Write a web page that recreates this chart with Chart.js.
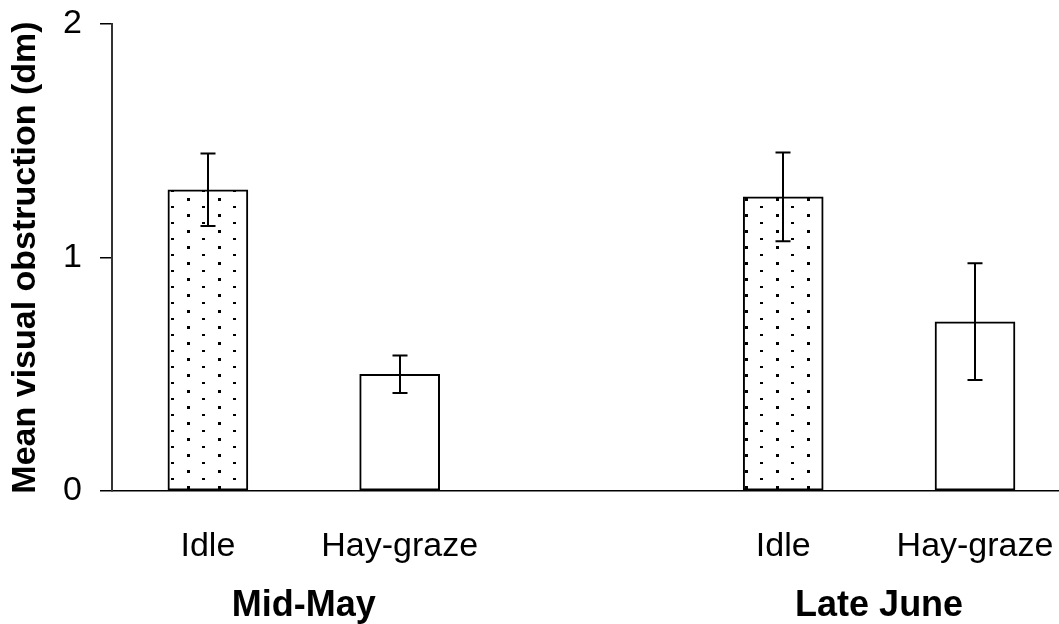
<!DOCTYPE html>
<html>
<head>
<meta charset="utf-8">
<script src="https://cdn.jsdelivr.net/npm/chart.js@4.4.1/dist/chart.umd.min.js"></script>
<style>
  html, body { margin: 0; padding: 0; background: #fff; overflow: hidden; }
  #wrap { position: relative; width: 1059px; height: 624px; }
</style>
</head>
<body>
<div id="wrap"><canvas id="c"></canvas></div>
<script>
// Mean visual obstruction by treatment, two sampling periods
const periods = ['Mid-May', 'Late June'];
const treatments = ['Idle', 'Hay-graze'];
const idleMean = [1.29, 1.26];
const idleSE = [0.155, 0.19];
const hayMean = [0.50, 0.725];
const haySE = [0.08, 0.25];
const yTicks = [0, 1, 2];

const FONT = "'Liberation Sans', Arial, Helvetica, sans-serif";

// slot along x: two bars per period, one empty slot between periods
const slot = (p, t) => 1 + p * 3 + t;

const points = [];
periods.forEach((p, i) => {
  points.push({ x: slot(i, 0), y: idleMean[i], se: idleSE[i], kind: 0 });
  points.push({ x: slot(i, 1), y: hayMean[i], se: haySE[i], kind: 1 });
});

// sparse staggered dot fill for the Idle bars
function dotPattern() {
  const t = document.createElement('canvas');
  t.width = 31; t.height = 16;
  const g = t.getContext('2d');
  g.fillStyle = '#fff';
  g.fillRect(0, 0, 31, 16);
  g.fillStyle = '#000';
  g.fillRect(1, 6, 3, 3);
  g.fillRect(16, 14, 3, 3);
  return g.createPattern(t, 'repeat');
}
const dots = dotPattern();

// vertical error bars with flat caps, drawn on top of the bars
const errorBars = {
  id: 'errorBars',
  afterDatasetsDraw(chart) {
    const { ctx, scales: { x, y } } = chart;
    ctx.save();
    ctx.strokeStyle = '#000';
    ctx.lineWidth = 2;
    chart.data.datasets[0].data.forEach(d => {
      const px = Math.round(x.getPixelForValue(d.x));
      const top = y.getPixelForValue(d.y + d.se);
      const bot = y.getPixelForValue(d.y - d.se);
      ctx.beginPath();
      ctx.moveTo(px, top); ctx.lineTo(px, bot);
      ctx.moveTo(px - 7.5, top); ctx.lineTo(px + 7.5, top);
      ctx.moveTo(px - 7.5, bot); ctx.lineTo(px + 7.5, bot);
      ctx.stroke();
    });
    ctx.restore();
  }
};

const xMin = 0.5, xMax = 5.438;

new Chart(document.getElementById('c'), {
  type: 'bar',
  data: {
    datasets: [{
      data: points,
      backgroundColor: points.map(p => p.kind === 0 ? dots : '#fff'),
      borderColor: '#000',
      borderWidth: 2,
      borderSkipped: false,
      barThickness: 80
    }]
  },
  plugins: [errorBars],
  options: {
    responsive: true,
    maintainAspectRatio: false,
    animation: false,
    devicePixelRatio: 1,
    layout: { padding: { top: 24, right: 0, bottom: 0, left: 0 } },
    plugins: { legend: { display: false }, tooltip: { enabled: false } },
    scales: {
      x: {
        type: 'linear',
        position: 'bottom',
        weight: 1,
        offset: false,
        min: xMin, max: xMax,
        grid: { display: false, drawTicks: false },
        border: { display: true, color: '#000', width: 1.5 },
        afterBuildTicks: s => {
          s.ticks = [];
          periods.forEach((p, i) => treatments.forEach((t, j) => s.ticks.push({ value: slot(i, j) })));
        },
        afterFit: s => { s.height = 76; s.paddingLeft = 0; s.paddingRight = 0; },
        ticks: {
          autoSkip: false, maxRotation: 0, minRotation: 0,
          padding: 35,
          color: '#000',
          font: { family: FONT, size: 34 },
          callback: (v, i) => treatments[i % treatments.length]
        }
      },
      xg: {
        type: 'linear',
        position: 'bottom',
        weight: 2,
        offset: false,
        min: xMin, max: xMax,
        grid: { display: false, drawTicks: false },
        border: { display: false },
        afterBuildTicks: s => {
          s.ticks = periods.map((p, i) => ({ value: (slot(i, 0) + slot(i, 1)) / 2 }));
        },
        afterFit: s => { s.height = 57; s.paddingLeft = 0; s.paddingRight = 0; },
        ticks: {
          autoSkip: false, maxRotation: 0, minRotation: 0,
          padding: 21,
          color: '#000',
          font: { family: FONT, size: 36, weight: 'bold', lineHeight: 1 },
          callback: (v, i) => periods[i]
        }
      },
      y: {
        min: 0, max: 2,
        afterFit: s => { s.width = 112; s.paddingTop = 0; s.paddingBottom = 0; },
        afterBuildTicks: s => { s.ticks = yTicks.map(v => ({ value: v })); },
        grid: { display: true, drawOnChartArea: false, drawTicks: true, tickLength: 12, color: '#000', lineWidth: 1.5 },
        border: { display: true, color: '#333', width: 2 },
        ticks: {
          padding: 18,
          color: '#000',
          font: { family: FONT, size: 34 }
        },
        title: {
          display: true,
          text: 'Mean visual obstruction (dm)',
          color: '#000',
          font: { family: FONT, size: 34, weight: 'bold' },
          padding: { top: 5, bottom: 0 }
        }
      }
    }
  }
});
</script>
</body>
</html>
